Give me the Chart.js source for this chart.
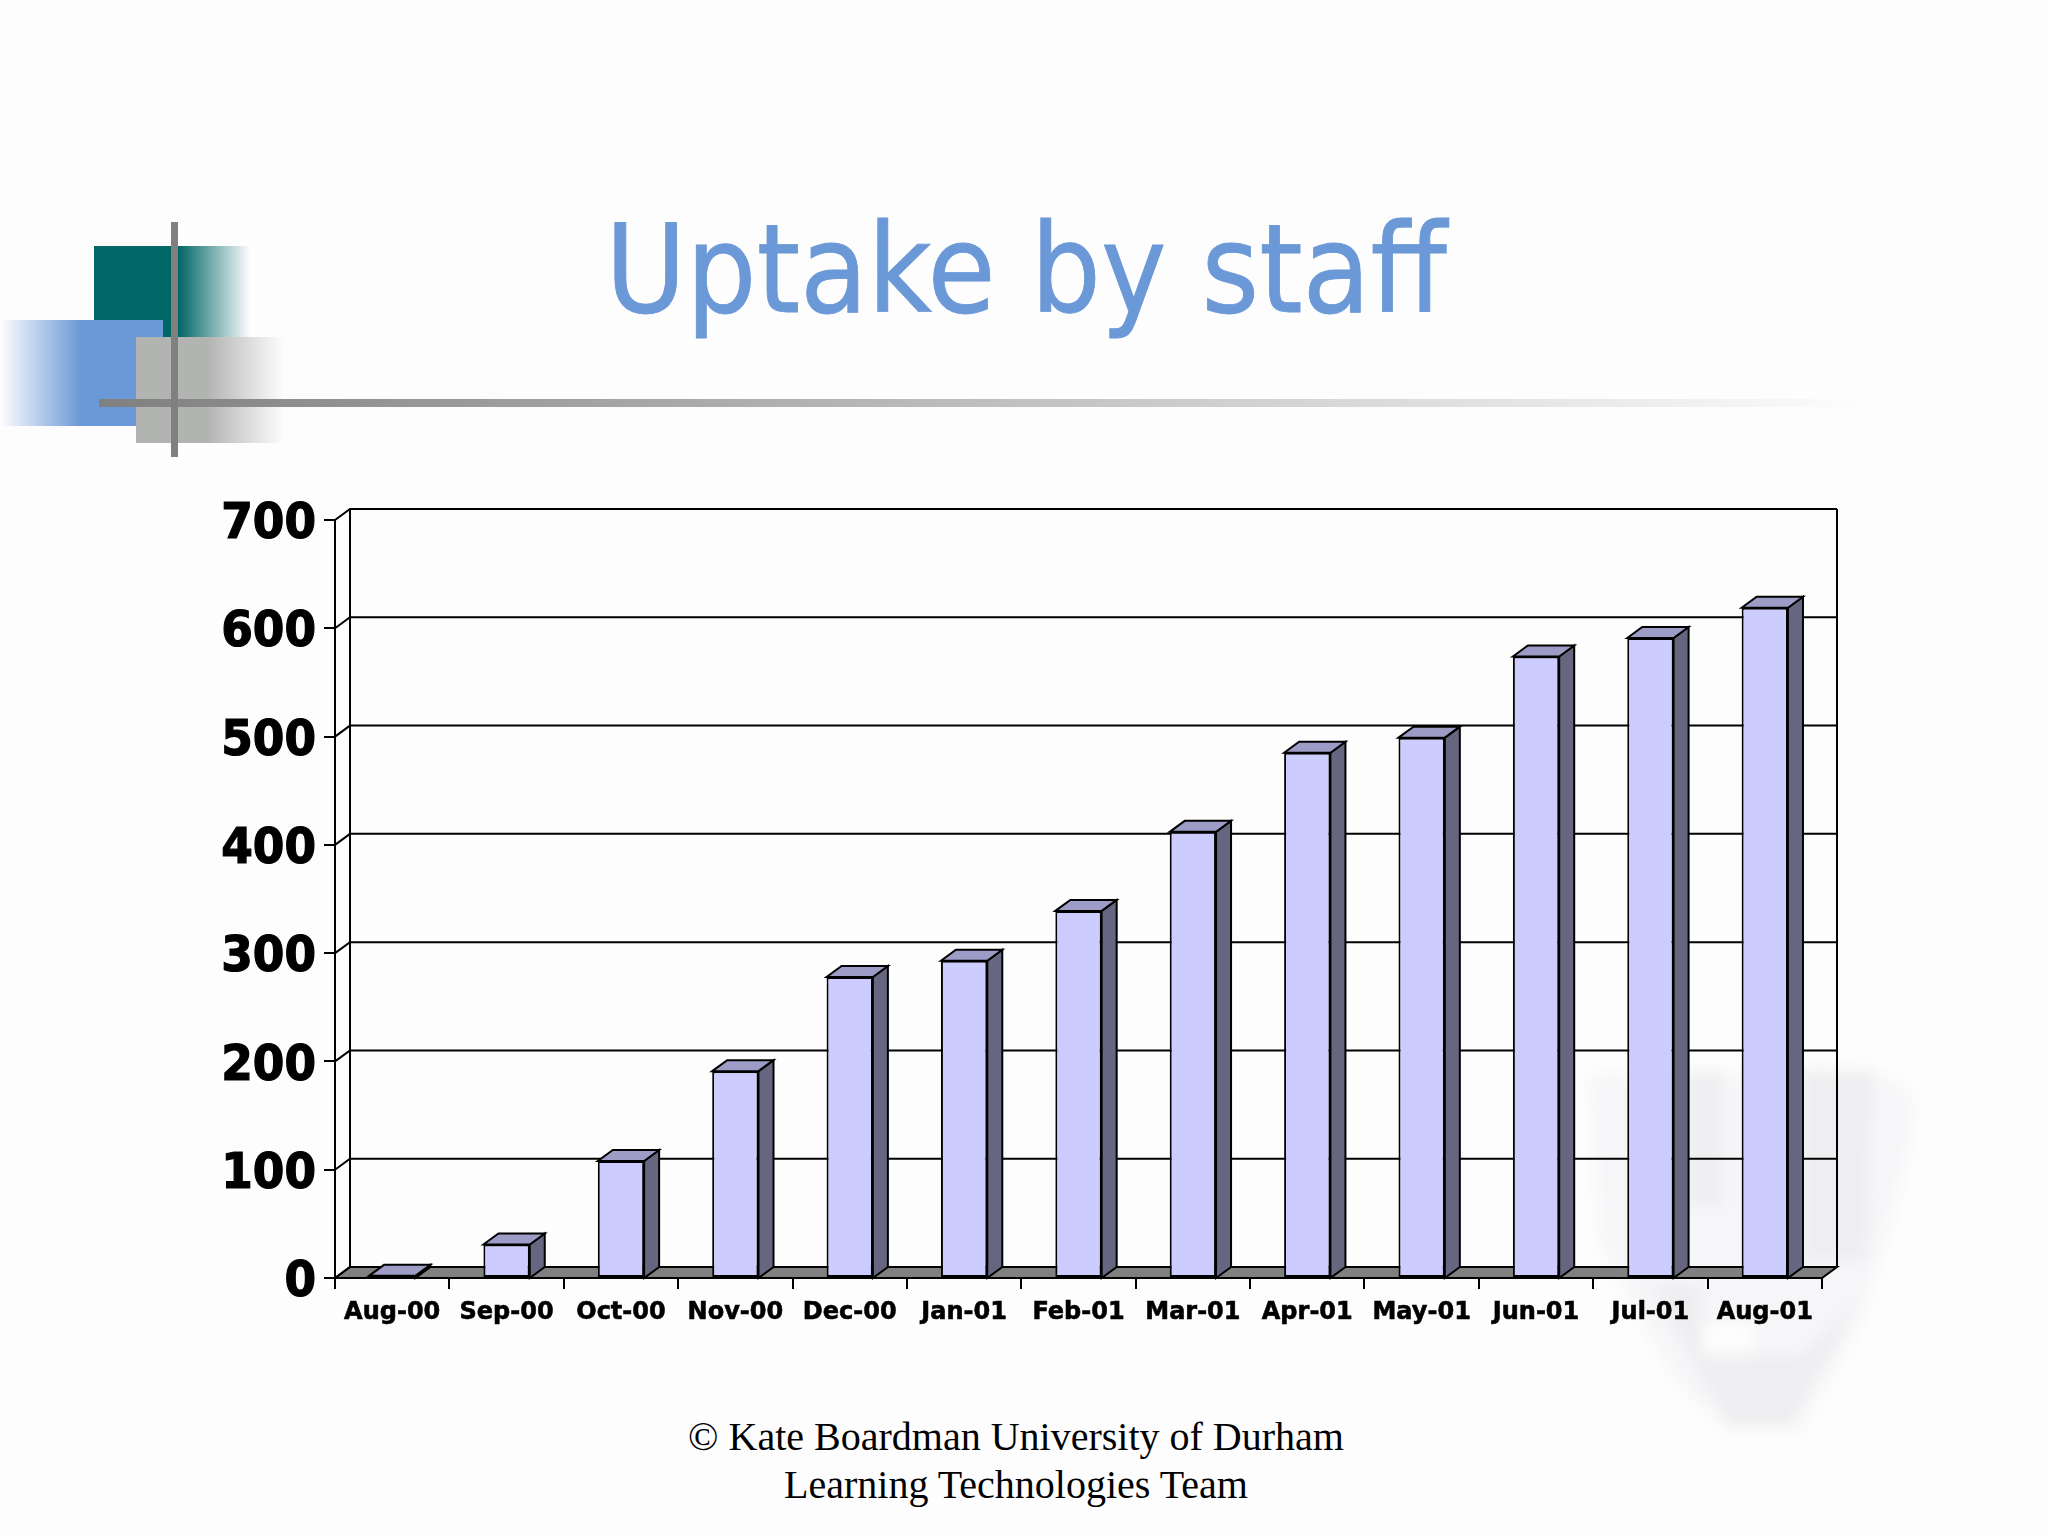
<!DOCTYPE html>
<html>
<head>
<meta charset="utf-8">
<title>Uptake by staff</title>
<script src="https://cdn.jsdelivr.net/npm/chart.js@4/dist/chart.umd.min.js"></script>
<style>
  html, body { margin: 0; padding: 0; background: #fdfdfe; }
  #page { position: relative; width: 2048px; height: 1536px; overflow: hidden; }
  #page div { position: absolute; }
  canvas { position: absolute; left: 0; top: 0; }
  #teal { left: 94px; top: 246px; width: 156px; height: 91px; background: linear-gradient(to right, #006666 0, #006666 54%, #fdfdfe 100%); }
  #blue { left: 0; top: 320px; width: 163px; height: 106px; background: linear-gradient(to right, #fdfdfe 0, #6b98d6 50%, #6b98d6 100%); }
  #grey { left: 136px; top: 337px; width: 148px; height: 106px; background: linear-gradient(to right, #b2b4b2 0, #b2b4b2 48%, #fdfdfe 100%); }
  #vline { left: 171px; top: 222px; width: 7px; height: 235px; background: #808080; }
  #hline { left: 99px; top: 399px; width: 1770px; height: 8px; background: linear-gradient(to right, #808080 0, #fdfdfe 100%); }
  /* escut de fons */
  #shield { left: 0; top: 0; width: 2048px; height: 1536px; filter: blur(7px); }
  #shield div { left: 0; top: 0; width: 2048px; height: 1536px; }
  #shieldBase { background: #f6f6f8; clip-path: polygon(1590px 1075px, 1877px 1070px, 1915px 1100px, 1910px 1140px, 1890px 1223px, 1860px 1323px, 1800px 1430px, 1727px 1430px, 1683px 1390px, 1633px 1307px, 1600px 1240px); }
  #shieldDark { background: #eeeef0; clip-path: polygon(1690px 1072px, 1722px 1072px, 1722px 1205px, 1690px 1205px); }
  #shieldRight { background: #eeeef0; clip-path: polygon(1803px 1070px, 1872px 1072px, 1866px 1260px, 1803px 1260px); }
  #shieldLow { background: #eeeef0; clip-path: polygon(1650px 1285px, 1700px 1285px, 1703px 1356px, 1800px 1356px, 1860px 1300px, 1790px 1425px, 1730px 1425px); }
  #shieldHole { background: #fdfdfe; clip-path: polygon(1703px 1323px, 1753px 1323px, 1753px 1353px, 1703px 1353px); }
  #title { left: 0; top: 195px; width: 2052px; text-align: center; color: #6b98d6; font: 123px "DejaVu Sans Condensed", "DejaVu Sans", sans-serif; line-height: 150px; -webkit-text-stroke: 0.8px #6b98d6; }
  #footer { left: 0; top: 1413px; width: 2032px; text-align: center; color: #000; font: 40px/48px "Liberation Serif", serif; }
</style>
</head>
<body>
<div id="page">
  <div id="shield">
    <div id="shieldBase"></div>
    <div id="shieldDark"></div>
    <div id="shieldRight"></div>
    <div id="shieldLow"></div>
    <div id="shieldHole"></div>
  </div>
  <div id="teal"></div>
  <div id="blue"></div>
  <div id="grey"></div>
  <div id="hline"></div>
  <div id="vline"></div>
  <div id="title">Uptake by staff</div>
  <div id="footer">© Kate Boardman University of Durham<br>Learning Technologies Team</div>
  <canvas id="myChart" width="2048" height="1536"></canvas>
</div>
<script>
// dades llegides del grafic
const months = ['Aug-00', 'Sep-00', 'Oct-00', 'Nov-00', 'Dec-00', 'Jan-01', 'Feb-01', 'Mar-01', 'Apr-01', 'May-01', 'Jun-01', 'Jul-01', 'Aug-01'];
const staff = [2, 31, 108, 191, 278, 293, 339, 412, 485, 499, 574, 591, 619];
const yTicks = [0, 100, 200, 300, 400, 500, 600, 700];

// profunditat del efecte 3D
const depthX = 15;
const depthY = -11;
const faceColor = '#ccccff';
const sideColor = '#666680';
const topColor = '#9c9cc6';
const floorColor = '#808080';

function poly(ctx, pts, fill) {
    ctx.beginPath();
    pts.forEach((p, i) => i ? ctx.lineTo(p[0], p[1]) : ctx.moveTo(p[0], p[1]));
    ctx.closePath();
    if (fill) {
        ctx.fillStyle = fill;
        ctx.fill();
    }
    ctx.stroke();
}

// paret del fons, terra i cares laterals de les barres
const depthPlugin = {
    id: 'depth',
    beforeDatasetsDraw(chart) {
        const ctx = chart.ctx;
        const y = chart.scales.y;
        const { left, right, top, bottom } = chart.chartArea;
        ctx.save();
        ctx.strokeStyle = '#000';
        ctx.lineWidth = 2;
        poly(ctx, [[left, bottom], [left + depthX, bottom + depthY], [right + depthX, bottom + depthY], [right, bottom]], floorColor);
        yTicks.forEach(v => {
            const py = y.getPixelForValue(v);
            ctx.beginPath();
            ctx.moveTo(left, py);
            ctx.lineTo(left + depthX, py + depthY);
            ctx.lineTo(right + depthX, py + depthY);
            ctx.stroke();
        });
        ctx.beginPath();
        ctx.moveTo(left + depthX, bottom + depthY);
        ctx.lineTo(left + depthX, top + depthY);
        ctx.moveTo(right + depthX, bottom + depthY);
        ctx.lineTo(right + depthX, top + depthY);
        ctx.stroke();
        chart.getDatasetMeta(0).data.forEach(bar => {
            const x0 = bar.x - bar.width / 2;
            const x1 = bar.x + bar.width / 2;
            poly(ctx, [[x1, bar.y], [x1 + depthX, bar.y + depthY], [x1 + depthX, bottom + depthY], [x1, bottom]], sideColor);
            poly(ctx, [[x0, bar.y], [x0 + depthX, bar.y + depthY], [x1 + depthX, bar.y + depthY], [x1, bar.y]], topColor);
        });
        ctx.restore();
    }
};

new Chart(document.getElementById('myChart').getContext('2d'), {
    type: 'bar',
    data: {
        labels: months,
        datasets: [{
            label: 'Staff',
            data: staff,
            backgroundColor: faceColor,
            borderColor: '#000',
            borderWidth: 2,
            borderSkipped: false,
            categoryPercentage: 1,
            barPercentage: 0.405
        }]
    },
    options: {
        responsive: false,
        devicePixelRatio: 1,
        animation: false,
        layout: { padding: { left: 0, right: 226, top: 520, bottom: 1536 - 1278 - 60 } },
        plugins: { legend: { display: false }, tooltip: { enabled: false } },
        scales: {
            x: {
                afterFit(axis) { axis.height = 60; },
                border: { color: '#000', width: 2 },
                grid: { drawOnChartArea: false, color: '#000', lineWidth: 2, tickLength: 11 },
                ticks: { color: '#000', padding: 9, autoSkip: false, maxRotation: 0, textStrokeColor: '#000', textStrokeWidth: 0.6, font: { family: 'DejaVu Sans', weight: 'bold', size: 24 } }
            },
            y: {
                min: 0,
                max: 700,
                afterFit(axis) { axis.width = 335; },
                afterBuildTicks(axis) { axis.ticks = yTicks.map(v => ({ value: v })); },
                border: { color: '#000', width: 2 },
                grid: { drawOnChartArea: false, color: '#000', lineWidth: 2, tickLength: 11 },
                ticks: { color: '#000', padding: 8, labelOffset: 5, textStrokeColor: '#000', textStrokeWidth: 1.2, font: { family: 'DejaVu Sans Condensed', weight: 'bold', size: 50.5 } }
            }
        }
    },
    plugins: [depthPlugin]
});
</script>
</body>
</html>
